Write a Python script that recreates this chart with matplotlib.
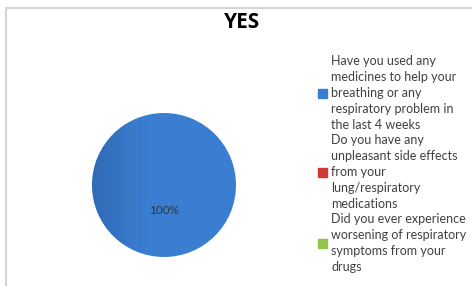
import numpy as np
import matplotlib.pyplot as plt
from matplotlib.lines import Line2D

title = 'YES'
labels = [
    'Have you used any\nmedicines to help your\nbreathing or any\nrespiratory problem in\nthe last 4 weeks',
    'Do you have any\nunpleasant side effects\nfrom your\nlung/respiratory\nmedications',
    'Did you ever experience\nworsening of respiratory\nsymptoms from your\ndrugs',
]
values = [100, 0, 0]
colors = ['#3a7ed2', '#d03a35', '#93c34a']

W, H = 472, 286
fig = plt.figure(figsize=(W / 100, H / 100), dpi=100)
fig.patch.set_facecolor('white')

# chart border (only left and top visible)
fig.add_artist(Line2D([5.5 / W, 5.5 / W, 1], [0, 1 - 7.5 / H, 1 - 7.5 / H],
                      transform=fig.transFigure, color='#d4d4d4', lw=1.5))

fig.text(242 / W, 1 - 22 / H, title, ha='center', va='center',
         fontsize=15, fontweight='bold', family='Open Sans', color='black')

# pie
cx, cy, r = 164, 185, 72
ax = fig.add_axes([(cx - r) / W, (H - cy - r) / H, 2 * r / W, 2 * r / H])
wedges, texts, autotexts = ax.pie(
    values, colors=colors, startangle=90, counterclock=False,
    autopct=lambda p: f'{p:.0f}%' if p > 0 else '', pctdistance=0.35,
    wedgeprops=dict(linewidth=0), textprops=dict(family='Lato', fontsize=8.5, color='#333333'))
ax.set_xlim(-1, 1)
ax.set_ylim(-1, 1)
ax.set_aspect('equal')

# darker shading on the left side of the pie
grad = np.zeros((2, 256, 4))
xs = np.linspace(0, 1, 256)
alpha = np.clip((0.38 - xs) / 0.38, 0, 1) * 0.22
grad[..., 3] = alpha
grad[..., :3] = np.array([0.05, 0.15, 0.3])
im = ax.imshow(grad, extent=(-1, 1, -1, 1), aspect='auto', zorder=3)
im.set_clip_path(wedges[0])
for t in autotexts:
    t.set_zorder(4)

# legend
handles = [plt.Rectangle((0, 0), 1, 1, color=c) for c in colors]
leg = fig.legend(handles, labels, loc='upper left',
                 bbox_to_anchor=(318 / W, 1 - 55 / H), frameon=False,
                 handlelength=0.75, handleheight=0.75, handletextpad=0.3,
                 labelspacing=0.25, borderpad=0, borderaxespad=0,
                 prop=dict(family='Lato', size=9))
for t in leg.get_texts():
    t.set_color('#404040')
    t.set_linespacing(1.4)

fig.savefig('out.png', dpi=100)
